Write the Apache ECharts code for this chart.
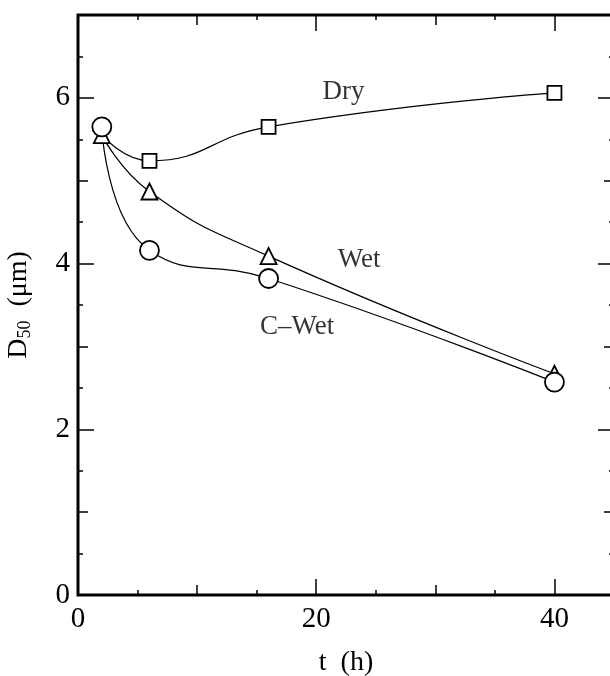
<!DOCTYPE html>
<html>
<head>
<meta charset="utf-8">
<script src="https://cdn.jsdelivr.net/npm/echarts@6/dist/echarts.min.js"></script>
<style>
html,body{margin:0;padding:0;background:#fff;}
#main{width:610px;height:676px;}
</style>
</head>
<body>
<div id="main"></div>
<script>
// Data
const tDry = [2, 6, 16, 40];
const dDry = [5.55, 5.24, 5.65, 6.06];
const tWet = [2, 6, 16, 40];
const dWet = [5.55, 4.87, 4.09, 2.67];
const tCWet = [2, 6, 16, 40];
const dCWet = [5.65, 4.16, 3.82, 2.57];
const curveLabels = ['Dry', 'Wet', 'C\u2013Wet'];
const labelT = [22.3, 23.6, 18.4];
const labelD = [6.07, 4.05, 3.23];

const FONT = 'Liberation Serif';
const chart = echarts.init(document.getElementById('main'), null, {renderer: 'canvas'});

function pairs(ts, ds) { return ts.map((t, i) => [t, ds[i]]); }

const dryData = pairs(tDry, dDry).map((p, i) => i === 0 ? {value: p, symbol: 'none'} : {value: p});

function axisX(pos, interval, tickLen, opts) {
  return Object.assign({
    type: 'value', position: pos, min: 0, max: 45, interval: interval,
    axisLine: {show: false, onZero: false},
    axisTick: {show: true, inside: true, length: tickLen, lineStyle: {color: '#000', width: 1.5}},
    axisLabel: {show: false},
    splitLine: {show: false}
  }, opts || {});
}
function axisY(pos, interval, tickLen, opts) {
  return Object.assign({
    type: 'value', position: pos, min: 0, max: 7, interval: interval,
    axisLine: {show: false, onZero: false},
    axisTick: {show: true, inside: true, length: tickLen, lineStyle: {color: '#000', width: 1.5}},
    axisLabel: {show: false},
    splitLine: {show: false}
  }, opts || {});
}
const minor = {show: true, splitNumber: 2, length: 5, lineStyle: {color: '#000', width: 1.5}};

const option = {
  backgroundColor: '#fff',
  animation: false,
  grid: {left: 78, top: 15, bottom: 81, right: -4, containLabel: false, outerBoundsMode: 'none',
    show: true, borderColor: '#000', borderWidth: 3, backgroundColor: 'transparent'},
  xAxis: [
    axisX('bottom', 20, 16, {
      axisLabel: {show: true, color: '#000', fontFamily: FONT, fontSize: 29, margin: 10,
        showMaxLabel: false, formatter: v => (v % 20 === 0 ? String(v) : '')},
      name: 't  (h)', nameLocation: 'middle', nameGap: 54,
      nameTextStyle: {color: '#000', fontFamily: FONT, fontSize: 28}
    }),
    axisX('bottom', 10, 10, {minorTick: minor}),
    axisX('top', 20, 16),
    axisX('top', 10, 10, {minorTick: minor})
  ],
  yAxis: [
    axisY('left', 2, 16, {
      axisLabel: {show: true, color: '#000', fontFamily: FONT, fontSize: 29, margin: 8,
        showMaxLabel: false, formatter: v => (v % 2 === 0 ? String(v) : '')},
      name: '{a|D}{s|50}{a|  (\u03bcm)}', nameLocation: 'middle', nameGap: 44, nameRotate: 90,
      nameTextStyle: {color: '#000', fontFamily: FONT, fontSize: 28,
        rich: {a: {fontFamily: FONT, fontSize: 28, color: '#000'},
               s: {fontFamily: FONT, fontSize: 18, color: '#000', verticalAlign: 'bottom', padding: [12, 0, 0, 0]}}}
    }),
    axisY('left', 1, 10, {minorTick: minor}),
    axisY('right', 2, 16),
    axisY('right', 1, 10, {minorTick: minor})
  ],
  series: [
    {
      name: 'Dry', type: 'line', data: dryData, smooth: 0.5,
      symbol: 'rect', symbolSize: 14,
      lineStyle: {color: '#000', width: 1.2},
      itemStyle: {color: '#fff', borderColor: '#000', borderWidth: 1.8}
    },
    {
      name: 'Wet', type: 'line', data: pairs(tWet, dWet), smooth: 0.5,
      symbol: 'triangle', symbolSize: 16,
      lineStyle: {color: '#000', width: 1.2},
      itemStyle: {color: '#fff', borderColor: '#000', borderWidth: 1.8}
    },
    {
      name: 'C-Wet', type: 'line', data: pairs(tCWet, dCWet), smooth: 0.5,
      symbol: 'circle', symbolSize: 19,
      lineStyle: {color: '#000', width: 1.2},
      itemStyle: {color: '#fff', borderColor: '#000', borderWidth: 1.8}
    },
    {
      name: 'labels', type: 'scatter', symbolSize: 0,
      data: curveLabels.map((n, i) => ({name: n, value: [labelT[i], labelD[i]]})),
      label: {show: true, position: 'inside', formatter: p => p.name,
        color: '#000', fontFamily: FONT, fontSize: 27},
      silent: true
    }
  ]
};
chart.setOption(option);
</script>
</body>
</html>
